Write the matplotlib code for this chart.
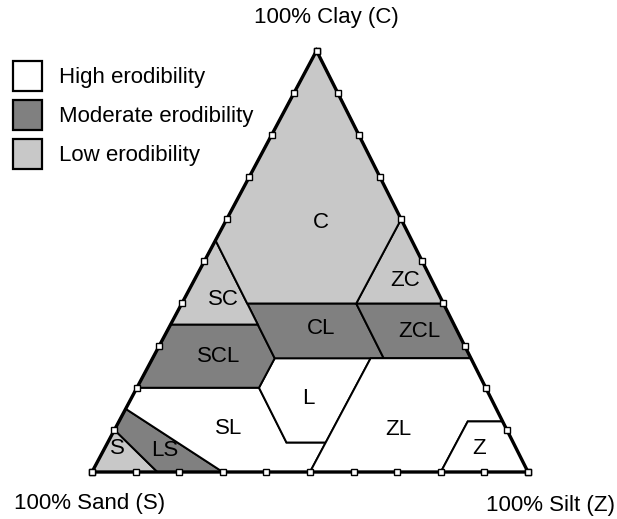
"""
Soil texture triangle shaded by erodibility class (high / moderate / low).
Output: out.png, 617x519 px.
"""
import matplotlib
matplotlib.use("Agg")
import matplotlib.pyplot as plt
from matplotlib.patches import Patch, Polygon

plt.rcParams["font.family"] = ["Liberation Sans", "DejaVu Sans"]

# ── Data: texture classes as (sand, silt, clay) % vertices ──
class_names = ["S", "LS", "SL", "L", "SCL", "CL", "ZCL", "SC", "ZC", "C", "ZL", "Z"]
class_erodibility = ["low", "moderate", "high", "high", "moderate", "moderate",
                     "moderate", "low", "low", "low", "high", "high"]
class_vertices = [
    [(100, 0, 0), (85, 15, 0), (90, 0, 10)],                                   # S
    [(85, 15, 0), (70, 30, 0), (85, 0, 15), (90, 0, 10)],                      # LS
    [(70, 30, 0), (50, 50, 0), (43, 50, 7), (52, 41, 7), (52, 28, 20),
     (80, 0, 20), (85, 0, 15)],                                                # SL
    [(52, 41, 7), (43, 50, 7), (23, 50, 27), (45, 28, 27), (52, 28, 20)],      # L
    [(80, 0, 20), (52, 28, 20), (45, 28, 27), (45, 20, 35), (65, 0, 35)],      # SCL
    [(45, 28, 27), (20, 53, 27), (20, 40, 40), (45, 15, 40)],                  # CL
    [(20, 53, 27), (0, 73, 27), (0, 60, 40), (20, 40, 40)],                    # ZCL
    [(65, 0, 35), (45, 20, 35), (45, 0, 55)],                                  # SC
    [(20, 40, 40), (0, 60, 40), (0, 40, 60)],                                  # ZC
    [(45, 0, 55), (45, 15, 40), (20, 40, 40), (0, 40, 60), (0, 0, 100)],       # C
    [(50, 50, 0), (20, 80, 0), (8, 80, 12), (0, 88, 12), (0, 73, 27),
     (20, 53, 27), (23, 50, 27), (43, 50, 7)],                                 # ZL
    [(20, 80, 0), (0, 100, 0), (0, 88, 12), (8, 80, 12)],                      # Z
]
# where each class label sits, as (silt, clay) %
label_silt = [3, 14, 26, 40.5, 15, 35, 58, 9, 48.5, 22, 65, 86]
label_clay = [5.5, 5.2, 10.4, 17.5, 27.4, 34, 33.3, 41, 45.4, 59.3, 10.1, 5.6]

legend_labels = ["High erodibility", "Moderate erodibility", "Low erodibility"]
legend_keys = ["high", "moderate", "low"]
tick_pcts = list(range(0, 101, 10))

FILL = {"high": "white", "moderate": "#808080", "low": "#c8c8c8"}
FS = 16
SKEW = 0.515   # the printed triangle leans a little: apex sits right of centre


def tern(silt, clay):
    """(silt, clay) % -> cartesian x, y of the triangle (0..100)."""
    return silt + clay * SKEW, clay


W, H = 617, 519
fig = plt.figure(figsize=(W / 100, H / 100), dpi=100)
fig.patch.set_facecolor("white")
# triangle corners at px (92,472) (528,472) (316.7,50.7)
ax = fig.add_axes([92 / W, (H - 472) / H, 436 / W, 421.3 / H])
ax.set_xlim(0, 100)
ax.set_ylim(0, 100)
ax.axis("off")

for name, erod, verts in zip(class_names, class_erodibility, class_vertices):
    xy = [tern(z, c) for s, z, c in verts]
    ax.add_patch(Polygon(xy, closed=True, facecolor=FILL[erod],
                         edgecolor="black", linewidth=1.4, joinstyle="miter",
                         clip_on=False))

for name, z, c in zip(class_names, label_silt, label_clay):
    x, y = tern(z, c)
    ax.text(x, y, name, ha="center", va="center", fontsize=FS)

# outer triangle
ox, oy = zip(*[tern(0, 0), tern(100, 0), tern(0, 100), tern(0, 0)])
ax.plot(ox, oy, color="black", linewidth=2.4, solid_joinstyle="miter",
        clip_on=False, zorder=4)

# square ticks every 10% along each edge
for p in tick_pcts:
    for z, c in [(p, 0), (0, p), (100 - p, p)]:
        x, y = tern(z, c)
        ax.plot(x, y, marker="s", markersize=4.6, markerfacecolor="white",
                markeredgecolor="black", markeredgewidth=1.0,
                clip_on=False, zorder=5)

# corner labels
ax.annotate("100% Clay (C)", xy=tern(0, 100), xytext=(10, 33),
            textcoords="offset pixels", ha="center", va="center", fontsize=FS)
ax.annotate("100% Sand (S)", xy=tern(0, 0), xytext=(-2, -31),
            textcoords="offset pixels", ha="center", va="center", fontsize=FS)
ax.annotate("100% Silt (Z)", xy=tern(100, 0), xytext=(23, -33),
            textcoords="offset pixels", ha="center", va="center", fontsize=FS)

# legend
handles = [Patch(facecolor=FILL[k], edgecolor="black", linewidth=1.6)
           for k in legend_keys]
fig.legend(handles=handles, labels=legend_labels, loc="upper left",
           bbox_to_anchor=(12.5 / W, 1 - 61 / H), frameon=False,
           fontsize=FS, handlelength=1.31, handleheight=1.7,
           handletextpad=0.78, labelspacing=0.4, borderpad=0,
           borderaxespad=0)

fig.savefig("out.png", dpi=100, facecolor="white")
